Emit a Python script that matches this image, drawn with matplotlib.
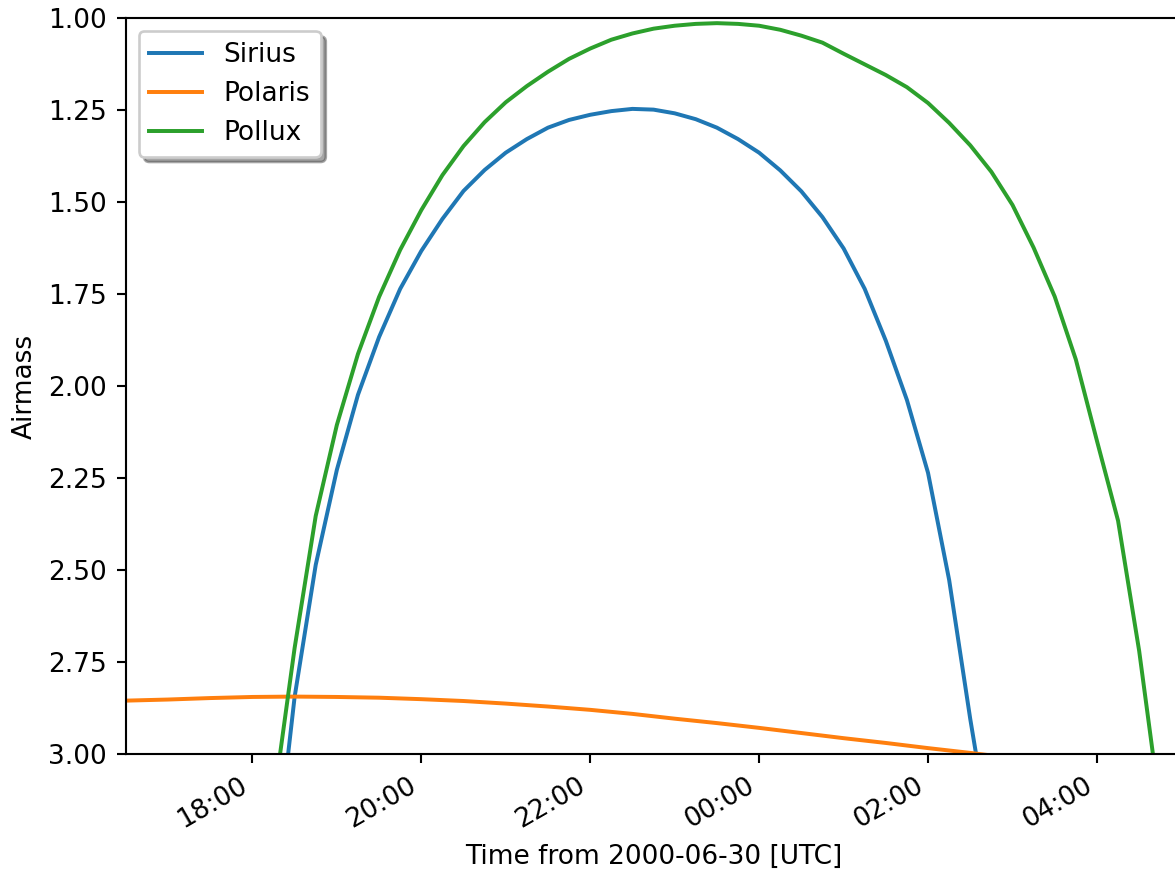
import numpy as np
import matplotlib
matplotlib.use("Agg")
import matplotlib.pyplot as plt
import matplotlib.dates as mdates

# ---- data ----
start = np.datetime64('2000-06-30T16:30')
# 15-minute grid for Sirius / Pollux (16:30 -> 05:00)
times_15 = start + np.arange(51) * np.timedelta64(15, 'm')
# 30-minute grid for Polaris (16:30 -> 05:00)
times_30 = start + np.arange(26) * np.timedelta64(30, 'm')

nan = np.nan
sirius = [nan, nan, nan, nan, nan, nan, nan, 3.35,
          2.845, 2.486, 2.228, 2.024, 1.867, 1.736, 1.633, 1.546,
          1.470, 1.413, 1.366, 1.329, 1.298, 1.277, 1.263, 1.253,
          1.247, 1.249, 1.259, 1.275, 1.298, 1.329, 1.366, 1.414,
          1.471, 1.541, 1.626, 1.736, 1.877, 2.038, 2.236, 2.527,
          2.905, 3.25, nan, nan, nan, nan, nan, nan, nan, nan, nan]

pollux = [nan, nan, nan, nan, nan, nan, nan, 3.13,
          2.712, 2.353, 2.106, 1.913, 1.758, 1.630, 1.522, 1.427,
          1.348, 1.283, 1.229, 1.185, 1.146, 1.111, 1.083, 1.059,
          1.042, 1.029, 1.021, 1.016, 1.014, 1.016, 1.021, 1.032,
          1.048, 1.067, 1.097, 1.126, 1.155, 1.188, 1.231, 1.285,
          1.346, 1.418, 1.508, 1.624, 1.757, 1.928, 2.149, 2.366,
          2.720, 3.15, nan]

polaris = [2.855, 2.852, 2.848, 2.845, 2.844, 2.845, 2.847, 2.851,
           2.856, 2.863, 2.871, 2.880, 2.891, 2.904, 2.916, 2.929,
           2.943, 2.957, 2.970, 2.984, 2.997, 3.011, 3.024, 3.037,
           3.049, 3.060]

series_names = ['Sirius', 'Polaris', 'Pollux']
y_ticks = [1.00, 1.25, 1.50, 1.75, 2.00, 2.25, 2.50, 2.75, 3.00]

# ---- figure ----
W, H, DPI = 1175, 871, 190
fig = plt.figure(figsize=(W / DPI, H / DPI), dpi=DPI)
left_px, right_px, top_px, bottom_px = 125.7, 1181.4, 18.0, 754.0
ax = fig.add_axes([left_px / W, 1 - bottom_px / H,
                   (right_px - left_px) / W, (bottom_px - top_px) / H])

ax.plot(times_15, sirius, color='#1f77b4', lw=1.5, label=series_names[0])
ax.plot(times_30, polaris, color='#ff7f0e', lw=1.5, label=series_names[1])
ax.plot(times_15, pollux, color='#2ca02c', lw=1.5, label=series_names[2])

ax.set_xlim(times_15[0], times_15[-1])
ax.set_ylim(3.0, 1.0)
ax.set_yticks(y_ticks)
ax.set_yticklabels([f"{v:.2f}" for v in y_ticks])

ax.xaxis.set_major_locator(mdates.HourLocator(byhour=range(0, 24, 2)))
ax.xaxis.set_major_formatter(mdates.DateFormatter('%H:%M'))
for lab in ax.get_xticklabels():
    lab.set_rotation(30)
    lab.set_ha('right')

ax.set_xlabel('Time from 2000-06-30 [UTC]')
ax.set_ylabel('Airmass')
ax.legend(loc='upper left', shadow=True)

fig.savefig('out.png', dpi=DPI)
